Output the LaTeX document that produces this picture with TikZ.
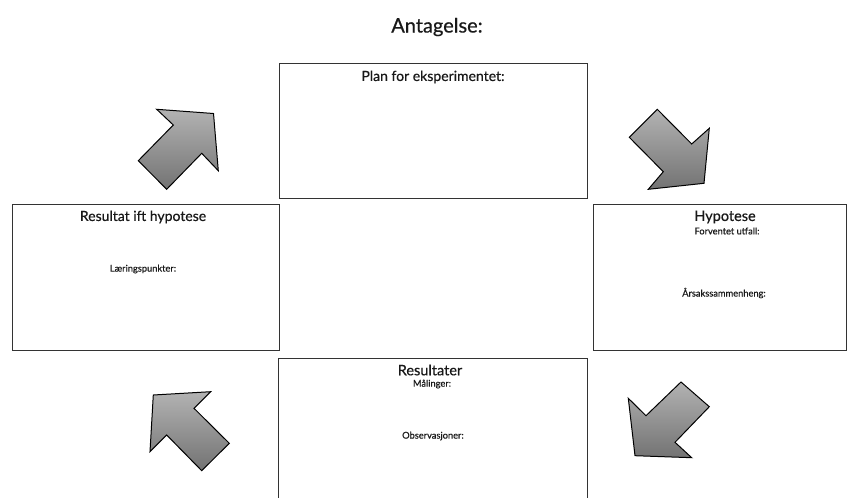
\documentclass[tikz,border=0pt]{standalone}
\usepackage{fontspec}
\setmainfont{Lato}[FakeBold=0.5]
\begin{document}
\begin{tikzpicture}[x=1pt,y=-1pt,
  box/.style={draw=black!80,line width=0.9pt,rectangle,inner sep=0pt},
  bigtxt/.style={font=\fontsize{14}{16}\selectfont,text=black!90,inner sep=0pt},
  smalltxt/.style={font=\fontsize{9.3}{11}\selectfont,text=black!90,inner sep=0pt},
  blockarrow/.style={draw=black,line width=1pt,line join=miter,top color=black!30,bottom color=black!55}]
\useasboundingbox (0,0) rectangle (847,498);
\clip (0,0) rectangle (847,498);
\node[font=\fontsize{20}{22}\selectfont,text=black!90,inner sep=0pt] (title) at (437,27) {Antagelse:};
% boxes
\node[box,minimum width=308pt,minimum height=135pt] (plan) at (433,130.5) {};
\node[box,minimum width=267pt,minimum height=146pt] (res) at (145.5,277) {};
\node[box,minimum width=253pt,minimum height=146pt] (hyp) at (719.5,277) {};
\node[box,minimum width=309pt,minimum height=146pt] (resu) at (432.5,431) {};
% texts
\node[bigtxt] (plant) at (433,77) {Plan for eksperimentet:};
\node[bigtxt] (rest) at (143,217) {Resultat ift hypotese};
\node[smalltxt] (laer) at (143,269) {Læringspunkter:};
\node[bigtxt,font=\fontsize{14.5}{16}\selectfont] (hypt) at (725,217) {Hypotese};
\node[smalltxt] (forv) at (727,231) {Forventet utfall:};
\node[smalltxt] (arsak) at (724,293) {Årsakssammenheng:};
\node[bigtxt,font=\fontsize{14.5}{16}\selectfont] (resut) at (430,370) {Resultater};
\node[smalltxt] (maal) at (432,384) {Målinger:};
\node[smalltxt] (obs) at (433,436) {Observasjoner:};
% block arrows
\draw[blockarrow] (156.7,109.3) -- (213.5,113.5) -- (218.3,170.7) -- (201.7,153.3) -- (166.7,189.3) -- (138.3,160.7) -- (173.3,125) -- cycle;
\draw[blockarrow] (657.3,109.3) -- (691.7,144) -- (709.3,128.3) -- (704,183.3) -- (648.3,189.3) -- (663.3,171.7) -- (629.3,137.3) -- cycle;
\draw[blockarrow] (153.3,395) -- (210.7,391.7) -- (194,408.3) -- (229.3,443.3) -- (201.7,470.7) -- (166.7,435) -- (150,451.7) -- cycle;
\draw[blockarrow] (628.3,398.3) -- (646,415.7) -- (681,382) -- (709.3,406.7) -- (675,442.3) -- (691.7,457.7) -- (635,455.7) -- cycle;
\end{tikzpicture}
\end{document}
